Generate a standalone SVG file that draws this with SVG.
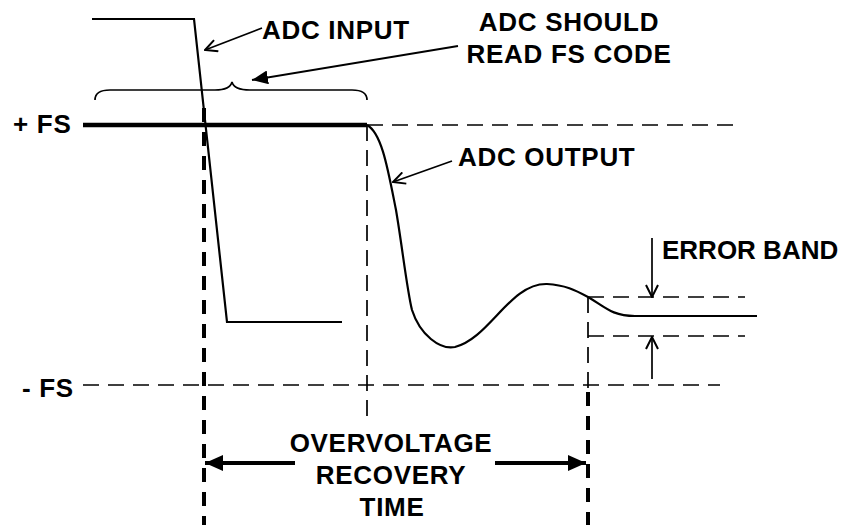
<svg xmlns="http://www.w3.org/2000/svg" width="844" height="525" viewBox="0 0 844 525">
<style>
text{font-family:"Liberation Sans",Arial,sans-serif;font-weight:bold;font-size:26px;letter-spacing:0.7px;fill:#000}
.thin{stroke:#000;stroke-width:1.7;fill:none}
.dash{stroke:#000;stroke-width:1.7;fill:none;stroke-dasharray:16 9}
.tdash{stroke:#000;stroke-width:4;fill:none;stroke-dasharray:14 10}
.wave{stroke:#000;stroke-width:2.2;fill:none}
</style>
<defs>
<marker id="open" markerUnits="userSpaceOnUse" viewBox="0 0 14 14" refX="13" refY="7" markerWidth="14" markerHeight="14" orient="auto">
<path d="M1,1 L13,7 L1,13" fill="none" stroke="#000" stroke-width="2"/>
</marker>
<marker id="fill" markerUnits="userSpaceOnUse" viewBox="0 0 16 14" refX="16" refY="7" markerWidth="16" markerHeight="14" orient="auto">
<path d="M0,0 L16,7 L0,14 Z" fill="#000"/>
</marker>
<marker id="big" markerUnits="userSpaceOnUse" viewBox="0 0 18 16" refX="18" refY="8" markerWidth="18" markerHeight="16" orient="auto">
<path d="M0,0 L18,8 L0,16 Z" fill="#000"/>
</marker>
</defs>

<g id="levels">
<line x1="83" y1="125" x2="367" y2="125" stroke="#000" stroke-width="4.5"/>
<line class="dash" x1="367" y1="125" x2="737" y2="125"/>
<line class="dash" x1="83" y1="385" x2="720" y2="385"/>
<line class="dash" x1="588" y1="297" x2="745" y2="297"/>
<line class="dash" x1="588" y1="336" x2="745" y2="336"/>
</g>

<g id="verticals">
<line class="tdash" x1="204" y1="108" x2="204" y2="525"/>
<line class="dash" x1="367" y1="125" x2="367" y2="418"/>
<line class="dash" x1="588" y1="297" x2="588" y2="390"/>
<line class="tdash" x1="588" y1="392" x2="588" y2="525"/>
</g>

<g id="adc-input-signal">
<polyline class="wave" points="92,19 194,19 227,322 342,322"/>
</g>

<g id="adc-output-signal">
<path class="wave" d="M367,125 C382,133 388,170 396,210 C402,245 407,290 412,310 C420,335 440,350 455,347 C490,338 510,283 547,284 C565,285 575,290 588,297 C605,307 612,316 635,316 L757,316"/>
</g>

<g id="brace">
<path class="thin" d="M95,100 Q95,90 110,90 L215,90 Q230,90 232,82 Q234,90 250,90 L352,90 Q367,90 367,100"/>
</g>

<g id="connectors">
<line class="thin" x1="262" y1="28" x2="205" y2="50" marker-end="url(#open)"/>
<line x1="458" y1="46" x2="252" y2="80" stroke="#000" stroke-width="2" marker-end="url(#fill)"/>
<line class="thin" x1="452" y1="161" x2="393" y2="182" marker-end="url(#open)"/>
<line class="thin" x1="652" y1="238" x2="652" y2="297" marker-end="url(#open)"/>
<line class="thin" x1="652" y1="379" x2="652" y2="337" marker-end="url(#open)"/>
<line x1="295" y1="463" x2="205" y2="463" stroke="#000" stroke-width="4" marker-end="url(#big)"/>
<line x1="495" y1="463" x2="586" y2="463" stroke="#000" stroke-width="4" marker-end="url(#big)"/>
</g>

<g id="labels">
<text x="262" y="39">ADC INPUT</text>
<text x="569" y="31" text-anchor="middle">ADC SHOULD</text>
<text x="569" y="63" text-anchor="middle">READ FS CODE</text>
<text x="458" y="166">ADC OUTPUT</text>
<text x="662" y="259" style="letter-spacing:0px">ERROR BAND</text>
<text x="13" y="133">+ FS</text>
<text x="22" y="397">- FS</text>
<text x="391" y="452" text-anchor="middle">OVERVOLTAGE</text>
<text x="391" y="484" text-anchor="middle">RECOVERY</text>
<text x="392" y="516" text-anchor="middle">TIME</text>
</g>
</svg>
